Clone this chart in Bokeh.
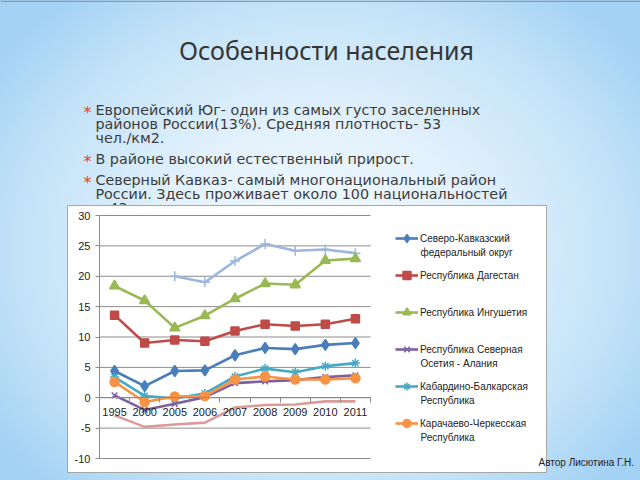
import numpy as np
from bokeh.plotting import figure
from bokeh.models import Range1d, FixedTicker, Legend, LegendItem, LinearAxis, Grid
from bokeh.core.properties import value
from bokeh.embed import file_html
from bokeh.resources import INLINE

# ---------------- data ----------------
years = ["1995", "2000", "2005", "2006", "2007", "2008", "2009", "2010", "2011"]
skfo = [4.4, 1.9, 4.4, 4.5, 7.0, 8.2, 8.0, 8.7, 9.0]
dagestan = [13.6, 9.0, 9.5, 9.3, 11.0, 12.1, 11.8, 12.1, 13.0]
ingushetia = [18.4, 16.0, 11.5, 13.5, 16.3, 18.8, 18.6, 22.6, 22.9]
ossetia = [0.4, -2.0, -1.0, 0.1, 2.4, 2.7, 2.9, 3.4, 3.7]
kbr = [3.4, 0.3, -0.1, 0.7, 3.5, 4.8, 4.2, 5.2, 5.7]
kchr = [2.6, -0.7, 0.2, 0.3, 3.0, 3.5, 3.0, 3.0, 3.2]
chechnya = [np.nan, np.nan, 20.0, 19.0, 22.5, 25.3, 24.2, 24.4, 23.8]
stavropol = [-2.9, -4.8, -4.4, -4.1, -1.6, -1.2, -1.1, -0.6, -0.6]
y_ticks = [-10, -5, 0, 5, 10, 15, 20, 25, 30]

legend_first = ["Северо-Кавказский", "Республика Дагестан", "Республика Ингушетия",
                "Республика Северная", "Кабардино-Балкарская", "Карачаево-Черкесская"]
legend_second = ["федеральный округ", "", "", "Осетия - Алания", "Республика", "Республика"]

title_text = "Особенности населения"
bullets = [
    ["Европейский Юг- один из самых густо заселенных",
     "районов России(13%). Средняя плотность- 53",
     "чел./км2."],
    ["В районе высокий естественный прирост."],
    ["Северный Кавказ- самый многонациональный район",
     "России. Здесь проживает около 100 национальностей",
     "и 43 народа"],
]
author = "Автор Лисютина Г.Н."

xs = [i + 0.5 for i in range(len(years))]

# ---------------- layout constants (pixels) ----------------
W, H = 640, 480
PL, PR, PT, PB = 99, 370, 215, 458          # chart plot area
ncat = len(years)
ymin, ymax = y_ticks[0], y_ticks[-1]
sx = (PR - PL) / ncat
sy = (PB - PT) / (ymax - ymin)
cx_start = -PL / sx
cx_end = cx_start + W / sx
cy_end = ymax + PT / sy
cy_start = cy_end - H / sy

p = figure(width=W, height=H, x_range=Range1d(0, W), y_range=Range1d(H, 0),
           x_axis_location=None, y_axis_location=None,
           output_backend="svg", toolbar_location=None, min_border=0)
p.outline_line_color = None
p.border_fill_alpha = 0
p.background_fill_alpha = 0
p.styles = {"background": "radial-gradient(ellipse 62% 68% at 50% 52%, #f3faff 0%, #e2f1fc 40%, #c4e3f8 75%, #a3d2f4 100%)"}
p.extra_x_ranges = {"cx": Range1d(cx_start, cx_end)}
p.extra_y_ranges = {"cy": Range1d(cy_start, cy_end)}
for r in list(p.center):
    if isinstance(r, Grid):
        r.visible = False

p.quad(left=[0], right=[W], top=[0], bottom=[1.5], fill_color="#8a9aa8", line_color=None, level="image")

# ---------------- slide text ----------------
FONT = "DejaVu Sans"
p.text(x=[326], y=[49], text=[title_text], text_font=value("Noto Sans"), text_font_size="25px",
       text_color="#353535", text_align="center", text_baseline="middle", level="image")
line_y = [[109, 123, 137], [158], [179, 193, 207]]
bx, by, bt = [], [], []
ax_, ay_ = [], []
for blk, ys in zip(bullets, line_y):
    ax_.append(83)
    ay_.append(ys[0] + 3)
    for tt, yy in zip(blk, ys):
        bx.append(95); by.append(yy); bt.append(tt)
p.text(x=ax_, y=ay_, text=["*"] * len(ax_), text_font=value(FONT), text_font_size="16px",
       text_color="#e0452b", text_baseline="middle", level="image")
p.text(x=bx, y=by, text=bt, text_font=value(FONT), text_font_size="14.3px",
       text_color="#3c3c3c", text_baseline="middle", level="image")

# ---------------- chart box ----------------
p.quad(left=[67], right=[546], top=[205], bottom=[472], fill_color="white",
       line_color="#a6a6a6", line_width=1, level="underlay")

# horizontal gridlines (through chart scales)
p.segment(x0=[0] * len(y_ticks), x1=[ncat] * len(y_ticks), y0=y_ticks, y1=y_ticks,
          line_color="#8c8c8c", line_width=1, x_range_name="cx", y_range_name="cy", level="underlay")

# ---------------- axes ----------------
yaxis = LinearAxis(x_range_name="cx", y_range_name="cy", fixed_location=0, bounds=(ymin, ymax),
                   ticker=FixedTicker(ticks=y_ticks, minor_ticks=[]))
yaxis.major_label_overrides = {v: str(v) for v in y_ticks}
yaxis.axis_line_color = "#8c8c8c"
yaxis.major_tick_line_color = "#8c8c8c"
yaxis.major_tick_out = 4
yaxis.major_tick_in = 0
yaxis.minor_tick_line_color = None
yaxis.major_label_standoff = 5
yaxis.major_label_text_font = "Liberation Sans"
yaxis.major_label_text_font_size = "11px"
yaxis.major_label_text_color = "#222222"
p.add_layout(yaxis, "left")

xaxis = LinearAxis(x_range_name="cx", y_range_name="cy", fixed_location=0, bounds=(0, ncat),
                   ticker=FixedTicker(ticks=xs, minor_ticks=list(range(ncat + 1))))
xaxis.major_label_overrides = {x: y for x, y in zip(xs, years)}
xaxis.axis_line_color = "#8c8c8c"
xaxis.major_tick_line_color = None
xaxis.major_tick_out = 0
xaxis.major_tick_in = 0
xaxis.minor_tick_line_color = "#8c8c8c"
xaxis.minor_tick_out = 5
xaxis.minor_tick_in = 0
xaxis.major_label_standoff = 5
xaxis.major_label_text_font = "Liberation Sans"
xaxis.major_label_text_font_size = "11px"
xaxis.major_label_text_color = "#222222"
p.add_layout(xaxis, "below")

# ---------------- series ----------------
LW = 2.6
R = dict(x_range_name="cx", y_range_name="cy")
series = [
    (skfo, "#4a7ebb", "diamond", 11),
    (dagestan, "#be4b48", "square", 8),
    (ingushetia, "#98b954", "triangle", 10),
    (ossetia, "#7d60a0", "x", 8),
    (kbr, "#46aac5", "asterisk", 9),
    (kchr, "#f69344", "circle", 9),
]
p.line(xs, chechnya, line_color="#9bb7dc", line_width=LW, **R)
p.scatter(xs, chechnya, marker="cross", size=10, line_color="#9bb7dc", line_width=1.5, **R)
p.line(xs, stavropol, line_color="#dc9a98", line_width=LW, **R)

items = []
for (vals, col, mk, sz), lab in zip(series, legend_first):
    r1 = p.line(xs, vals, line_color=col, line_width=LW, **R)
    r2 = p.scatter(xs, vals, marker=mk, size=sz, fill_color=col, line_color=col, line_width=1.5, **R)
    items.append(LegendItem(label=lab, renderers=[r1, r2]))

n_items = len(items)
GLH, SP = 20, 17
leg_h = n_items * GLH + (n_items - 1) * SP
leg_top = 238 - GLH / 2
leg = Legend(items=items, location=(395, H - leg_top - leg_h), padding=0, margin=0, spacing=SP,
             glyph_width=23, glyph_height=GLH, label_height=GLH, label_standoff=2,
             label_text_font="Liberation Sans", label_text_font_size="10px", label_text_color="#222222",
             border_line_color=None, background_fill_alpha=0)
p.add_layout(leg)

sl_x, sl_y, sl_t = [], [], []
for i, tt in enumerate(legend_second):
    if tt:
        sl_x.append(420); sl_y.append(238 + 14 + (GLH + SP) * i); sl_t.append(tt)
p.text(x=sl_x, y=sl_y, text=sl_t, text_font=value("Liberation Sans"), text_font_size="10px",
       text_color="#222222", text_baseline="middle")

p.text(x=[538], y=[462], text=[author], text_font=value("Liberation Sans"), text_font_size="10px",
       text_color="#222222", text_baseline="middle")

open("out.html", "w").write(file_html(p, INLINE))
